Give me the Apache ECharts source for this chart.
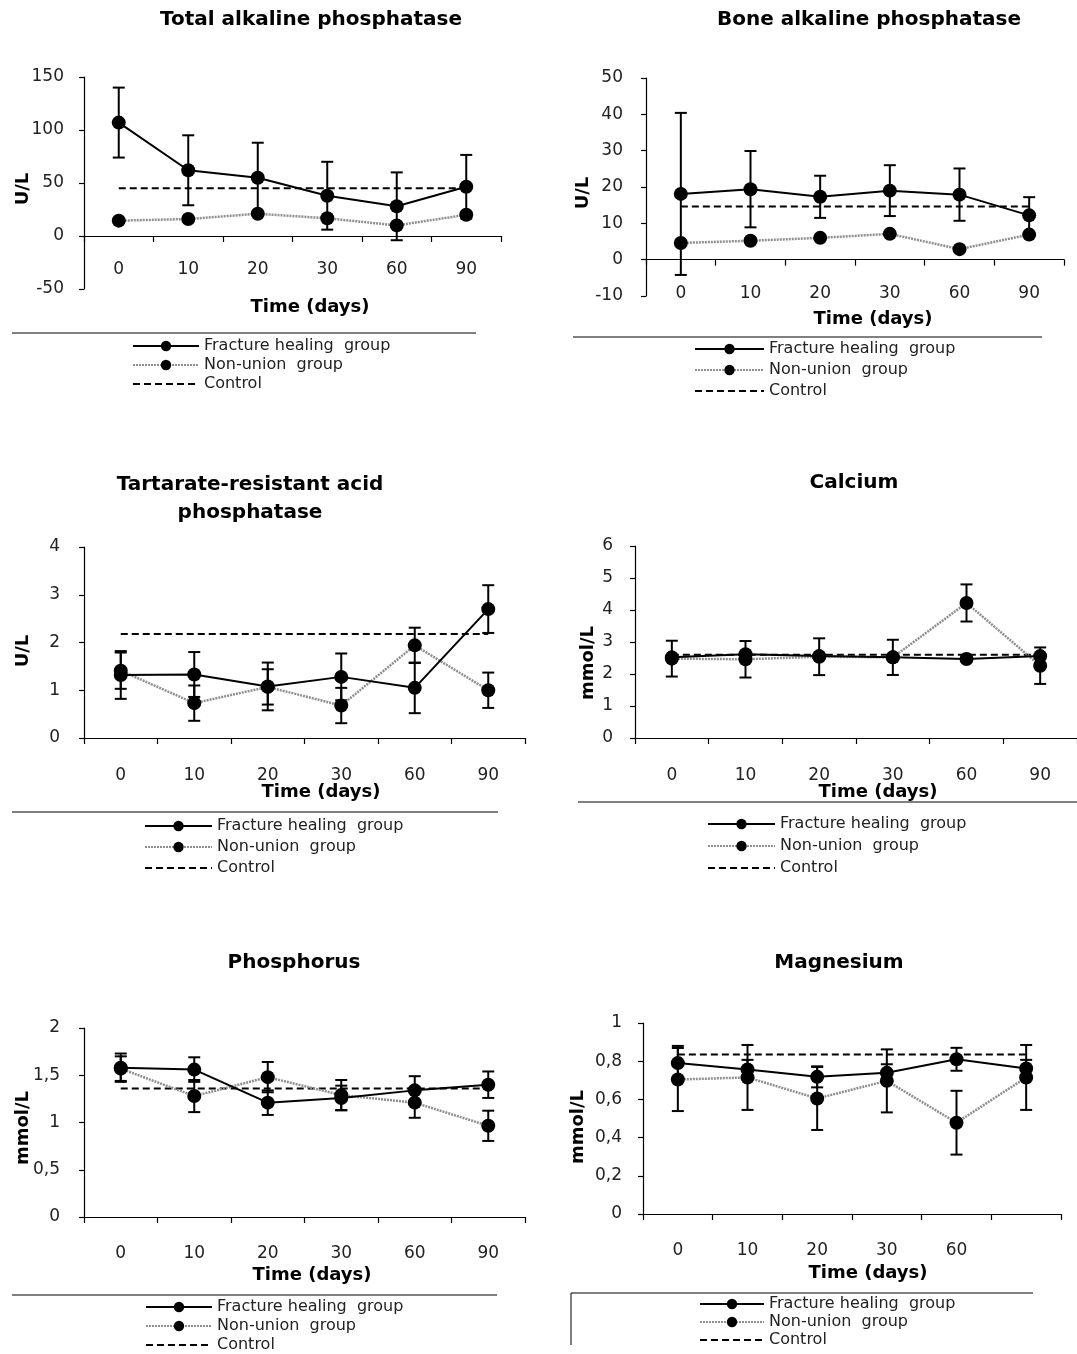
<!DOCTYPE html>
<html><head><meta charset="utf-8">
<script src="https://cdn.jsdelivr.net/npm/echarts@6/dist/echarts.min.js"></script>
<style>html,body{margin:0;padding:0;background:#fff}#c{width:1077px;height:1354px}</style>
</head><body><div id="c"></div>
<script>
// ---------- DATA ----------
const days = ['0', '10', '20', '30', '60', '90'];
const daysMg = ['0', '10', '20', '30', '60', ''];
const seriesNames = ['Fracture healing group', 'Non-union group', 'Control'];
const panelTitles = ['Total alkaline phosphatase', 'Bone alkaline phosphatase', 'Tartarate-resistant acid\nphosphatase', 'Calcium', 'Phosphorus', 'Magnesium'];
const yUnits = ['U/L', 'U/L', 'U/L', 'mmol/L', 'mmol/L', 'mmol/L'];
const xTitle = 'Time (days)';

const talpFracture = [107, 62, 55, 38, 28, 46.5];
const talpFractureSD = [33, 33, 33, 32, 32, 30];
const talpNonunion = [14.5, 16, 21, 16.7, 10, 20];
const talpNonunionSD = [0, 0, 0, 0, 0, 0];

const balpFracture = [18.1, 19.4, 17.3, 19, 17.9, 12.2];
const balpFractureSD = [22.3, 10.5, 5.8, 7, 7.2, 5];
const balpNonunion = [4.6, 5.2, 6, 7.1, 2.9, 6.9];
const balpNonunionSD = [0, 0, 0, 0, 0, 0];

const trapFracture = [1.32, 1.33, 1.08, 1.28, 1.05, 2.7];
const trapFractureSD = [0.5, 0.47, 0.5, 0.49, 0.53, 0.5];
const trapNonunion = [1.41, 0.73, 1.07, 0.68, 1.94, 1.0];
const trapNonunionSD = [0.38, 0.37, 0.37, 0.37, 0.37, 0.37];

const caFracture = [2.52, 2.62, 2.56, 2.52, 2.47, 2.56];
const caFractureSD = [0, 0, 0, 0, 0, 0];
const caNonunion = [2.48, 2.46, 2.54, 2.52, 4.22, 2.26];
const caNonunionSD = [0.56, 0.57, 0.575, 0.55, 0.58, 0.57];

const pFracture = [1.58, 1.56, 1.21, 1.26, 1.34, 1.40];
const pFractureSD = [0.15, 0.13, 0.13, 0.13, 0.15, 0.14];
const pNonunion = [1.57, 1.28, 1.48, 1.29, 1.21, 0.965];
const pNonunionSD = [0.13, 0.17, 0.16, 0.16, 0.16, 0.16];

const mgFracture = [0.79, 0.757, 0.718, 0.739, 0.81, 0.762];
const mgFractureSD = [0.09, 0.05, 0.055, 0.045, 0.06, 0.045];
const mgNonunion = [0.704, 0.715, 0.605, 0.697, 0.478, 0.715];
const mgNonunionSD = [0.165, 0.17, 0.165, 0.165, 0.167, 0.17];

const controlValues = [45, 14.6, 2.18, 2.6, 1.36, 0.835];

const yMins = [-50, -10, 0, 0, 0, 0];
const yMaxs = [150, 50, 4, 6, 2, 1];
const yIntervals = [50, 10, 1, 1, 0.5, 0.2];

// ---------- LAYOUT / STYLE ----------
const FONT = '"DejaVu Sans", "Liberation Sans", Arial, sans-serif';
const layout = [
  {grid:{left:84,top:77,width:417,height:212}, ylm:20, xlm:-28, title:[311,20], yName:[23,189], xName:[310,307],
   legend:{left:132,top:338,w:66,gap:3}, lines:[[12,333,476,333]], cats:days},
  {grid:{left:646,top:78,width:418,height:218}, ylm:23, xlm:-11, title:[869,20], yName:[583,193], xName:[873,319],
   legend:{left:694,top:341,w:69,gap:5}, lines:[[573,337,1042,337]], cats:days},
  {grid:{left:84,top:547,width:441,height:191}, ylm:24, xlm:29, title:[250,499], yName:[23,651], xName:[321,792],
   legend:{left:144,top:818,w:67,gap:5}, lines:[[12,812,498,812]], cats:days},
  {grid:{left:635,top:546,width:452,height:192}, ylm:22, xlm:29, title:[854,483], yName:[588,663], xName:[878,792],
   legend:{left:707,top:816,w:67,gap:6}, lines:[[578,802,1077,802]], cats:days},
  {grid:{left:84,top:1028,width:441,height:189}, ylm:24, xlm:28, title:[294,963], yName:[23,1128], xName:[312,1275],
   legend:{left:145,top:1299,w:66,gap:3}, lines:[[12,1295,497,1295]], cats:days},
  {grid:{left:643,top:1023,width:418,height:191}, ylm:21, xlm:28, title:[839,963], yName:[578,1127], xName:[868,1273],
   legend:{left:699,top:1296,w:64,gap:2}, lines:[[571,1293,1033,1293],[571,1293,571,1345]], cats:daysMg}
];

const fractureData = [talpFracture, balpFracture, trapFracture, caFracture, pFracture, mgFracture];
const fractureSD = [talpFractureSD, balpFractureSD, trapFractureSD, caFractureSD, pFractureSD, mgFractureSD];
const nonunionData = [talpNonunion, balpNonunion, trapNonunion, caNonunion, pNonunion, mgNonunion];
const nonunionSD = [talpNonunionSD, balpNonunionSD, trapNonunionSD, caNonunionSD, pNonunionSD, mgNonunionSD];

function errItems(mean, sd) {
  const out = [];
  mean.forEach((m, i) => { if (sd[i] > 0) out.push([i, m - sd[i], m + sd[i]]); });
  return out;
}
function renderErr(params, api) {
  const x = api.value(0);
  const lo = api.coord([x, api.value(1)]);
  const hi = api.coord([x, api.value(2)]);
  const w = 6;
  const st = {stroke: '#000', lineWidth: 2};
  return {type: 'group', children: [
    {type: 'line', shape: {x1: lo[0], y1: lo[1], x2: hi[0], y2: hi[1]}, style: st},
    {type: 'line', shape: {x1: lo[0] - w, y1: lo[1], x2: lo[0] + w, y2: lo[1]}, style: st},
    {type: 'line', shape: {x1: hi[0] - w, y1: hi[1], x2: hi[0] + w, y2: hi[1]}, style: st}
  ]};
}
const commaFmt = v => String(Math.round(v * 100) / 100).replace('.', ',');

const option = {
  animation: false,
  backgroundColor: '#fff',
  grid: [], xAxis: [], yAxis: [], series: [], legend: [], graphic: []
};

layout.forEach((L, i) => {
  option.grid.push(Object.assign({containLabel: false}, L.grid));
  option.xAxis.push({
    type: 'category', gridIndex: i, data: L.cats, boundaryGap: true,
    axisLine: {show: true, onZero: true, lineStyle: {color: '#000', width: 1.2}},
    axisTick: {show: true, length: 6, lineStyle: {color: '#000', width: 1.2}},
    axisLabel: {margin: L.xlm, interval: 0, fontSize: 17, color: '#222', fontFamily: FONT},
    splitLine: {show: false}
  });
  option.yAxis.push({
    type: 'value', gridIndex: i, min: yMins[i], max: yMaxs[i], interval: yIntervals[i],
    axisLine: {show: true, lineStyle: {color: '#000', width: 1.2}},
    axisTick: {show: true, length: 5, lineStyle: {color: '#000', width: 1.2}},
    axisLabel: {margin: L.ylm, fontSize: 17, color: '#222', fontFamily: FONT,
      formatter: i >= 4 ? commaFmt : (v => String(v))},
    splitLine: {show: false}
  });
  option.series.push({
    type: 'custom', name: 'err-f-' + i, xAxisIndex: i, yAxisIndex: i, z: 2,
    renderItem: renderErr, encode: {x: 0, y: [1, 2]}, data: errItems(fractureData[i], fractureSD[i])
  });
  option.series.push({
    type: 'custom', name: 'err-n-' + i, xAxisIndex: i, yAxisIndex: i, z: 2,
    renderItem: renderErr, encode: {x: 0, y: [1, 2]}, data: errItems(nonunionData[i], nonunionSD[i])
  });
  option.series.push({
    type: 'line', name: seriesNames[2], xAxisIndex: i, yAxisIndex: i, z: 3,
    data: days.map(() => controlValues[i]), symbol: 'none',
    lineStyle: {color: '#000', width: 2, type: [7, 4]}, itemStyle: {color: '#000'}
  });
  option.series.push({
    type: 'line', name: seriesNames[1], xAxisIndex: i, yAxisIndex: i, z: 4,
    data: nonunionData[i], symbol: 'circle', symbolSize: 14, showAllSymbol: true,
    lineStyle: {color: '#8f8f8f', width: 2.5, type: [2, 1]}, itemStyle: {color: '#000'}
  });
  option.series.push({
    type: 'line', name: seriesNames[0], xAxisIndex: i, yAxisIndex: i, z: 5,
    data: fractureData[i], symbol: 'circle', symbolSize: 14, showAllSymbol: true,
    lineStyle: {color: '#000', width: 2}, itemStyle: {color: '#000'}
  });
  option.legend.push({
    orient: 'vertical', left: L.legend.left, top: L.legend.top, itemWidth: L.legend.w, itemHeight: 13,
    itemGap: L.legend.gap, selectedMode: false, padding: 0,
    textStyle: {fontSize: 16, lineHeight: 16, color: '#222', fontFamily: FONT},
    formatter: n => n.replace(' group', '  group'),
    data: [{name: seriesNames[0]}, {name: seriesNames[1]}, {name: seriesNames[2], itemStyle: {opacity: 0}}]
  });
  option.graphic.push({
    type: 'text', x: L.title[0], y: L.title[1], silent: true,
    style: {text: panelTitles[i], font: 'bold 20px ' + FONT, fill: '#000', align: 'center', verticalAlign: 'middle', lineHeight: 28}
  });
  option.graphic.push({
    type: 'text', x: L.xName[0], y: L.xName[1], silent: true,
    style: {text: xTitle, font: 'bold 18px ' + FONT, fill: '#000', align: 'center', verticalAlign: 'middle'}
  });
  option.graphic.push({
    type: 'text', x: L.yName[0], y: L.yName[1], rotation: Math.PI / 2, silent: true,
    style: {text: yUnits[i], font: 'bold 18px ' + FONT, fill: '#000', align: 'center', verticalAlign: 'middle'}
  });
  L.lines.forEach(s => option.graphic.push({
    type: 'line', silent: true, shape: {x1: s[0], y1: s[1], x2: s[2], y2: s[3]},
    style: {stroke: '#000', lineWidth: 1}
  }));
});

const chart = echarts.init(document.getElementById('c'), null, {renderer: 'canvas'});
chart.setOption(option);
</script></body></html>
